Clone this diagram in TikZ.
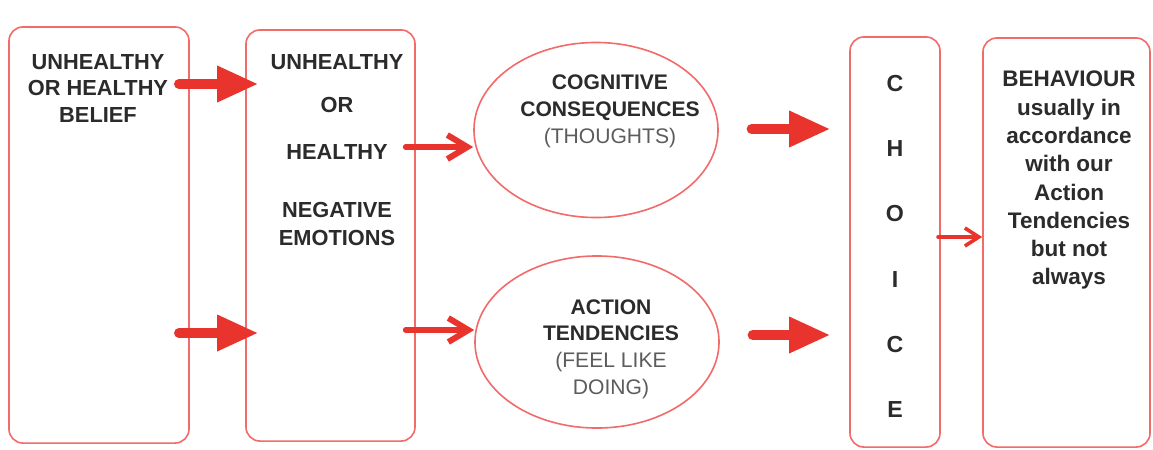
\documentclass[tikz,border=0pt]{standalone}
\usepackage{fontspec}
\setmainfont{Liberation Sans}
\usetikzlibrary{arrows.meta,shapes.geometric}
\definecolor{boxred}{HTML}{F26A6A}
\definecolor{arrowred}{HTML}{E8342C}
\definecolor{inkgrey}{HTML}{2B2B2B}
\definecolor{softgrey}{HTML}{5C5C5C}
\tikzset{
  box/.style={draw=boxred, line width=0.04cm, rounded corners=0.35cm, inner sep=0pt},
  oval/.style={ellipse, draw=boxred, line width=0.04cm, inner sep=0pt},
  txt/.style={inner sep=0pt, anchor=north, align=center, text=inkgrey,
              font=\bfseries\fontsize{15.5}{19.9}\selectfont},
  fat/.style={-{Triangle[length=1cm, width=0.925cm, line width=0pt]},
              line width=0.25cm, draw=arrowred, line cap=round},
  mid/.style={-{Straight Barb[length=0.5cm, width=0.6cm]},
              line width=0.15cm, draw=arrowred, line cap=round},
  slim/.style={-{Straight Barb[length=0.35cm, width=0.45cm]},
              line width=0.09cm, draw=arrowred, line cap=round},
}

\begin{document}
\begin{tikzpicture}[x=0.025cm, y=-0.025cm]
\useasboundingbox[fill=white] (0,0) rectangle (1153,449);

%Boxes
\node[box, minimum width=4.5cm, minimum height=10.4cm] (belief) at (99,235) {};
\node[box, minimum width=4.225cm, minimum height=10.275cm] (emotion) at (330.5,235.5) {};
\node[oval, minimum width=6.1cm, minimum height=4.375cm] (cogn) at (596,130) {};
\node[oval, minimum width=6.1cm, minimum height=4.3cm] (action) at (597,342) {};
\node[box, minimum width=2.25cm, minimum height=10.25cm] (choice) at (895,242) {};
\node[box, minimum width=4.175cm, minimum height=10.225cm] (behav) at (1066.5,242.5) {};

%Texts
\node[txt, font=\bfseries\fontsize{15.5}{18.8}\selectfont] (beliefText) at (98,54)
  {UNHEALTHY\\OR HEALTHY\\BELIEF};
\node[txt] (emotionText) at (337,54)
  {UNHEALTHY\\[0.38cm]OR\\[0.48cm]HEALTHY\\[0.75cm]NEGATIVE\\EMOTIONS};
\node[txt, font=\bfseries\fontsize{15}{19.3}\selectfont] (cognText) at (610,74)
  {COGNITIVE\\CONSEQUENCES\\{\mdseries\color{softgrey}(THOUGHTS)}};
\node[txt, font=\bfseries\fontsize{15}{19}\selectfont] (actionText) at (611,299)
  {ACTION\\TENDENCIES\\{\mdseries\color{softgrey}(FEEL LIKE}\\{\mdseries\color{softgrey}DOING)}};
\node[txt, font=\bfseries\fontsize{16.5}{46.4}\selectfont] (choiceText) at (895,75)
  {C\\H\\O\\I\\C\\E};
\node[txt, font=\bfseries\fontsize{16}{20.1}\selectfont] (behavText) at (1069,71)
  {BEHAVIOUR\\usually in\\accordance\\with our\\Action\\Tendencies\\but not\\always};

%Arrow rows
\coordinate (rowA) at (0,84);
\coordinate (rowB) at (0,147);
\coordinate (rowC) at (0,129);
\coordinate (rowD) at (0,237);
\coordinate (rowE) at (0,333);
\coordinate (rowF) at (0,330);
\coordinate (rowG) at (0,335);

%Arrows
\draw[fat, shorten <=-0.27cm, shorten >=-0.3cm] (belief.east |- rowA) -- (emotion.west |- rowA);
\draw[fat, shorten <=-0.27cm, shorten >=-0.3cm] (belief.east |- rowE) -- (emotion.west |- rowE);
\draw[mid, shorten <=-0.25cm] (emotion.east |- rowB) -- (cogn.west |- rowB);
\draw[mid, shorten <=-0.25cm] (emotion.east |- rowF) -- (action.west |- rowF);
\draw[fat, shorten <=0.82cm, shorten >=0.5cm] (cogn.east |- rowC) -- (choice.west |- rowC);
\draw[fat, shorten <=0.82cm, shorten >=0.5cm] (action.east |- rowG) -- (choice.west |- rowG);
\draw[slim, shorten <=-0.07cm] (choice.east |- rowD) -- (behav.west |- rowD);
\end{tikzpicture}
\end{document}
